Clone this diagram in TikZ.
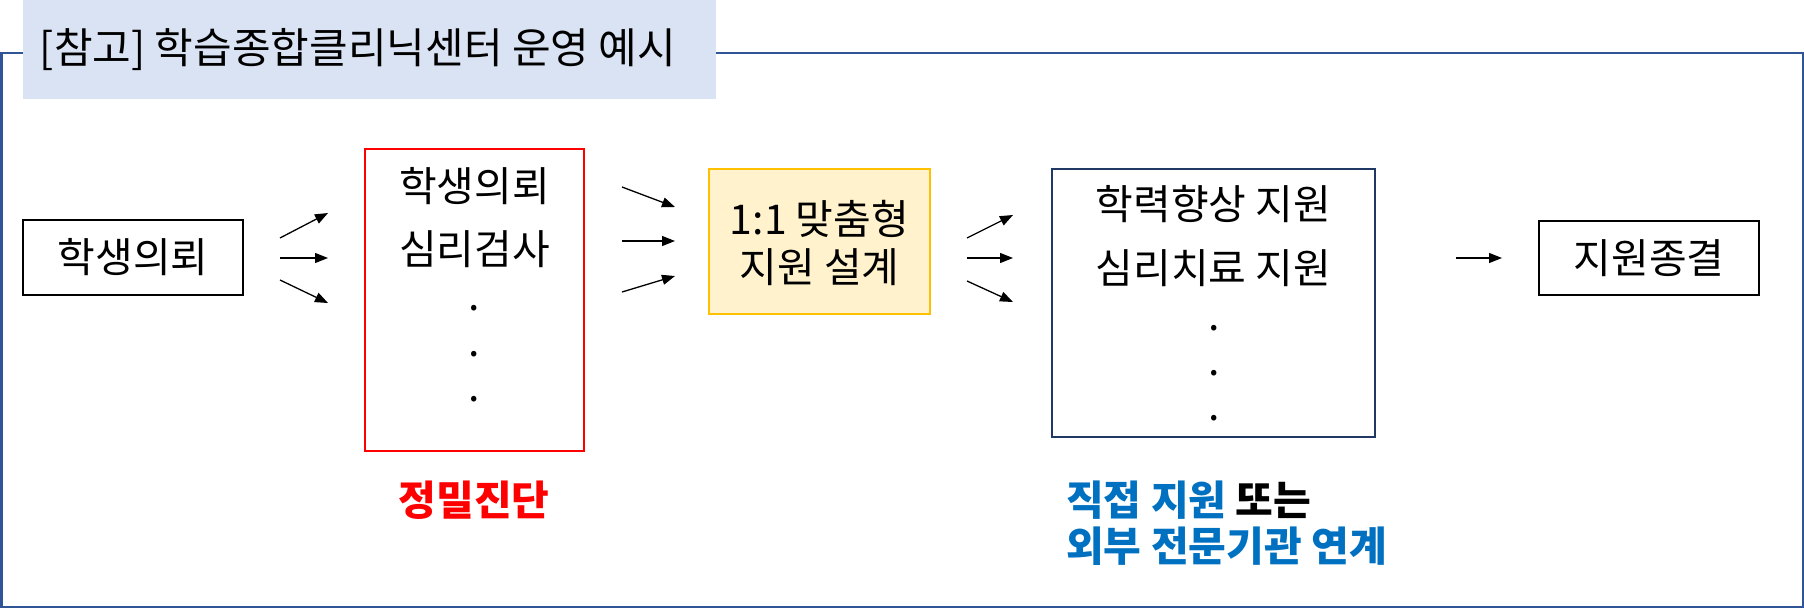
\documentclass[tikz,border=0pt]{standalone}
\usepackage{fontspec}
\setmainfont{Noto Sans CJK KR}
\usetikzlibrary{arrows.meta}
\definecolor{framecol}{HTML}{2F5597}
\definecolor{titlefill}{HTML}{DAE3F3}
\definecolor{redcol}{HTML}{FF0000}
\definecolor{yelfill}{HTML}{FFF2CC}
\definecolor{yelline}{HTML}{FFC000}
\definecolor{navycol}{HTML}{1F3864}
\definecolor{bluetxt}{HTML}{0070C0}
\newcommand{\bigtxt}{\fontsize{41}{48}\selectfont}
\begin{document}
\begin{tikzpicture}[x=1pt,y=-1pt,
  txt/.style={font=\bigtxt, inner sep=0pt},
  dotnode/.style={font=\bigtxt, inner sep=0pt, anchor=base},
  boxed/.style={draw, line width=1.5pt, inner sep=0pt},
  arr/.style={line width=1.3pt, -{Triangle[length=13pt,width=10pt]}}]
\useasboundingbox (0,0) rectangle (1804,608);
% frame and title
\draw[framecol, line width=2.5pt] (1.25,53) rectangle (1802.75,606.75);
\fill[titlefill] (23,0) rectangle (716,99);
\node[txt, font=\fontsize{42}{48}\selectfont] (title) at (358,50) {[참고] 학습종합클리닉센터 운영 예시};
% boxes
\node[boxed, minimum width=220pt, minimum height=75pt, txt] (b1) at (133,257.5) {학생의뢰};
\node[boxed, draw=redcol, minimum width=219pt, minimum height=302pt] (b2) at (474.5,300) {};
\node[boxed, draw=yelline, fill=yelfill, line width=2.5pt, minimum width=221pt, minimum height=145pt] (b3) at (819.5,241.5) {};
\node[boxed, draw=navycol, line width=2.5pt, minimum width=323pt, minimum height=268pt] (b4) at (1213.5,303) {};
\node[boxed, minimum width=220pt, minimum height=74pt, txt] (b5) at (1649,258) {지원종결};
% texts in red box
\node[txt] (b2l1) at (474.5,186) {학생의뢰};
\node[txt] (b2l2) at (474.5,249) {심리검사};
\node[dotnode] (b2d1) at (474.5,310) {.};
\node[dotnode] (b2d2) at (474.5,356) {.};
\node[dotnode] (b2d3) at (474.5,401) {.};
% texts in yellow box
\node[txt] (b3l1) at (819.5,219) {1:1 맞춤형};
\node[txt] (b3l2) at (819.5,267) {지원 설계};
% texts in navy box
\node[txt] (b4l1) at (1213.5,204) {학력향상 지원};
\node[txt] (b4l2) at (1213.5,268) {심리치료 지원};
\node[dotnode] (b4d1) at (1214,330) {.};
\node[dotnode] (b4d2) at (1214,375) {.};
\node[dotnode] (b4d3) at (1214,420) {.};
% labels below
\node[txt, text=redcol, font=\bigtxt\bfseries] (lab1) at (474,500) {정밀진단};
\node[txt, anchor=west, font=\bigtxt\bfseries] (lab2) at (1066,500) {\textcolor{bluetxt}{직접 지원} 또는};
\node[txt, anchor=west, text=bluetxt, font=\bigtxt\bfseries] (lab3) at (1066,546) {외부 전문기관 연계};
% arrow coordinates
\coordinate (g1a) at (280,238); \coordinate (g1A) at (328,213);
\coordinate (g1b) at (280,258); \coordinate (g1B) at (328,258);
\coordinate (g1c) at (280,280); \coordinate (g1C) at (328,303);
\coordinate (g2a) at (622,187); \coordinate (g2A) at (675,207);
\coordinate (g2b) at (622,241); \coordinate (g2B) at (675,241);
\coordinate (g2c) at (622,292); \coordinate (g2C) at (675,276);
\coordinate (g3a) at (967,238); \coordinate (g3A) at (1013,215);
\coordinate (g3b) at (967,258); \coordinate (g3B) at (1013,258);
\coordinate (g3c) at (967,281); \coordinate (g3C) at (1013,302);
\coordinate (g4a) at (1456,258); \coordinate (g4A) at (1502,258);
\draw[arr] (g1a) -- (g1A);
\draw[arr] (g1b) -- (g1B);
\draw[arr] (g1c) -- (g1C);
\draw[arr] (g2a) -- (g2A);
\draw[arr] (g2b) -- (g2B);
\draw[arr] (g2c) -- (g2C);
\draw[arr] (g3a) -- (g3A);
\draw[arr] (g3b) -- (g3B);
\draw[arr] (g3c) -- (g3C);
\draw[arr] (g4a) -- (g4A);
\end{tikzpicture}
\end{document}
